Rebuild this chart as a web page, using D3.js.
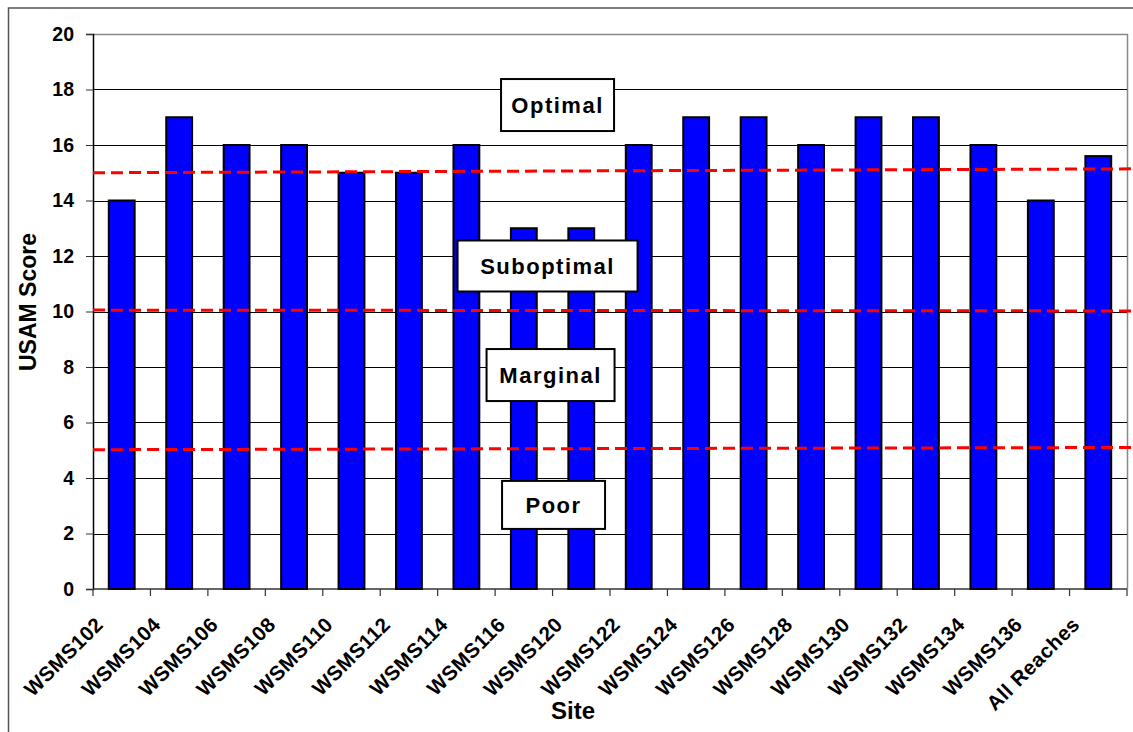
<!DOCTYPE html>
<html><head><meta charset="utf-8">
<script src="https://cdn.jsdelivr.net/npm/d3@7"></script>
<style>
html,body{margin:0;padding:0;background:#fff;}
text{font-family:"Liberation Sans",Arial,sans-serif;font-weight:bold;}
</style></head>
<body>
<script>
const sites = ["WSMS102","WSMS104","WSMS106","WSMS108","WSMS110","WSMS112","WSMS114","WSMS116","WSMS120","WSMS122","WSMS124","WSMS126","WSMS128","WSMS130","WSMS132","WSMS134","WSMS136","All Reaches"];
const scores = [14,17,16,16,15,15,16,13,13,16,17,17,16,17,17,16,14,15.6];
const yTicks = [0,2,4,6,8,10,12,14,16,18,20];
// threshold lines: value at left end, value at right end
const thresholdStart = [15.0, 10.05, 5.02];
const thresholdEnd = [15.14, 10.02, 5.1];
// class labels and their vertical level (score units)
const classNames = ["Optimal","Suboptimal","Marginal","Poor"];
const classLevels = [17.44, 11.64, 7.71, 3.03];

const W = 1133, H = 732;
const m = {left:93, top:34, right:1127, bottom:589};
const boxSize = {Optimal:[113,52], Suboptimal:[180,51], Marginal:[128,52], Poor:[103,48]};
const boxDx = {Optimal:5, Suboptimal:-5, Marginal:-2, Poor:1};

const svg = d3.select("body").append("svg").attr("width",W).attr("height",H);

// outer frame
svg.append("rect").attr("x",8.5).attr("y",8).attr("width",W).attr("height",H)
  .attr("fill","none").attr("stroke","#555").attr("stroke-width",1.5);

const x = d3.scaleBand().domain(sites).range([m.left,m.right]).paddingInner(0.55).paddingOuter(0.275);
const xb = d3.scaleBand().domain(sites).range([m.left,m.right]);
const y = d3.scaleLinear().domain([0,20]).range([m.bottom,m.top]);

// plot area border (gray)
svg.append("path").attr("d",`M${m.left},${m.top+0.5}H${m.right+0.5}V${m.bottom}`)
  .attr("fill","none").attr("stroke","#888").attr("stroke-width",1.5);

// gridlines
svg.append("g").selectAll("line").data(yTicks.filter(d=>d>0&&d<20)).join("line")
  .attr("x1",m.left).attr("x2",m.right).attr("y1",d=>Math.round(y(d))+0.5).attr("y2",d=>Math.round(y(d))+0.5)
  .attr("stroke","#000").attr("stroke-width",1);

// y axis
const yAxis = svg.append("g").attr("transform",`translate(${m.left},0)`)
  .call(d3.axisLeft(y).tickValues(yTicks).tickSize(7).tickPadding(12).tickFormat(d3.format("d")));
yAxis.select(".domain").attr("stroke","#000").attr("stroke-width",1.5);
yAxis.selectAll(".tick line").attr("stroke","#333");
yAxis.selectAll("text").attr("font-size",19.5).attr("fill","#000").attr("font-family","Liberation Sans, Arial").attr("font-weight","bold");

// x axis ticks at band boundaries
const bounds = sites.map(s=>xb(s)).concat([m.right]);
svg.append("line").attr("x1",m.left).attr("x2",m.right).attr("y1",m.bottom).attr("y2",m.bottom).attr("stroke","#333").attr("stroke-width",1.5);
svg.append("g").selectAll("line").data(bounds).join("line")
  .attr("x1",d=>d).attr("x2",d=>d).attr("y1",m.bottom).attr("y2",m.bottom+7).attr("stroke","#333").attr("stroke-width",1.2);

// bars
svg.append("g").selectAll("rect").data(sites).join("rect")
  .attr("x",(d)=>x(d)).attr("width",x.bandwidth())
  .attr("y",(d,i)=>y(scores[i])).attr("height",(d,i)=>y(0)-y(scores[i]))
  .attr("fill","#0000ff").attr("stroke","#000").attr("stroke-width",2);

// x labels
svg.append("g").selectAll("text").data(sites).join("text")
  .attr("transform",d=>`translate(${xb(d)+xb.bandwidth()/2-28},${m.bottom+26}) rotate(-45)`)
  .attr("text-anchor","end").attr("dominant-baseline","hanging").attr("font-size",20.5)
  .attr("letter-spacing",0.5).attr("fill","#000")
  .text(d=>d);

// threshold lines
svg.append("g").selectAll("line").data(thresholdStart).join("line")
  .attr("x1",m.left).attr("x2",W).attr("y1",d=>y(d)).attr("y2",(d,i)=>y(thresholdEnd[i]))
  .attr("stroke","#ff0000").attr("stroke-width",3).attr("stroke-dasharray","12,6");

// class boxes
const cx = xb(sites[8]);
const boxes = svg.append("g").selectAll("g").data(classNames).join("g")
  .attr("transform",(d,i)=>`translate(${cx+boxDx[d]},${y(classLevels[i])})`);
boxes.append("rect")
  .attr("x",d=>-boxSize[d][0]/2).attr("y",d=>-boxSize[d][1]/2)
  .attr("width",d=>boxSize[d][0]).attr("height",d=>boxSize[d][1])
  .attr("fill","#fff").attr("stroke","#000").attr("stroke-width",2);
boxes.append("text").attr("text-anchor","middle").attr("dy","0.36em")
  .attr("font-size",22).attr("letter-spacing",1.5).attr("fill","#000").text(d=>d);

// axis titles
svg.append("text").attr("x",573).attr("y",719).attr("text-anchor","middle").attr("font-size",24).attr("fill","#000").text("Site");
svg.append("text").attr("transform",`translate(36,302) rotate(-90)`).attr("text-anchor","middle")
  .attr("font-size",23).attr("fill","#000").text("USAM Score");
</script>
</body></html>
